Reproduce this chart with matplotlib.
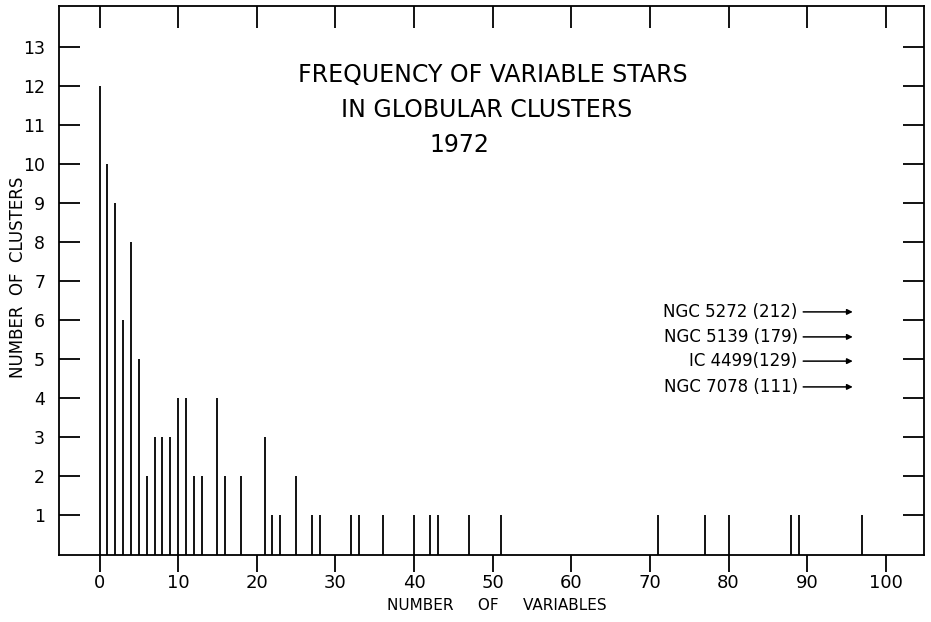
import matplotlib
matplotlib.use("Agg")
import matplotlib.pyplot as plt

plt.rcParams['font.family'] = ['DejaVu Sans']

# Data: number of variables per cluster -> number of clusters
num_variables = [0, 1, 2, 3, 4, 5, 6, 7, 8, 9, 10, 11, 12, 13, 15, 16, 18,
                 21, 22, 23, 25, 27, 28, 32, 33, 36, 40, 42, 43, 47, 51,
                 71, 77, 80, 88, 89, 97]
num_clusters = [12, 10, 9, 6, 8, 5, 2, 3, 3, 3, 4, 4, 2, 2, 4, 2, 2,
                3, 1, 1, 2, 1, 1, 1, 1, 1, 1, 1, 1, 1, 1,
                1, 1, 1, 1, 1, 1]

off_scale_labels = ["NGC 5272 (212)", "NGC 5139 (179)", "IC 4499(129)", "NGC 7078 (111)"]

x_ticks = list(range(0, 101, 10))
y_ticks = list(range(1, 14))

title_lines = ["FREQUENCY OF VARIABLE STARS", "IN GLOBULAR CLUSTERS", "1972"]

fig = plt.figure(figsize=(9.31, 6.22), dpi=100)
ax = fig.add_axes([0.0634, 0.1085, 0.9294, 0.8825])

ax.vlines(num_variables, 0, num_clusters, color='black', linewidth=1.3)

ax.set_xlim(-5.15, 104.9)
ax.set_ylim(0, 14.05)

ax.set_xticks(x_ticks)
ax.set_yticks(y_ticks)
ax.tick_params(axis='x', which='both', direction='out', length=12, width=1.3,
               top=False, labelsize=13, pad=2, colors='black')
ax.tick_params(axis='y', which='both', direction='in', length=15, width=1.3,
               right=True, labelsize=12.5, pad=10)
# Top ticks pointing inward
secx = ax.secondary_xaxis('top')
secx.set_xticks(x_ticks)
secx.tick_params(direction='in', length=16, width=1.3, labeltop=False)
secx.set_xticklabels([])
secx.spines['top'].set_visible(False)

for s in ax.spines.values():
    s.set_linewidth(1.3)

ax.set_xlabel("NUMBER     OF     VARIABLES", fontsize=11)
ax.xaxis.set_label_coords(0.506, -0.079)
ax.set_ylabel("NUMBER  OF  CLUSTERS", fontsize=12, va='center')
ax.yaxis.set_label_coords(-0.047, 0.505)

title_x = [493 / 931, 487 / 931, 459 / 931]
title_y = [1 - 75 / 622, 1 - 110 / 622, 1 - 145 / 622]
for t, tx, ty in zip(title_lines, title_x, title_y):
    fig.text(tx, ty, t, ha='center', va='center', fontsize=17)

ys = [6.21, 5.57, 4.95, 4.29]
for label, y in zip(off_scale_labels, ys):
    ax.text(88.8, y, label, ha='right', va='center', fontsize=12)
    ax.annotate("", xy=(95.8, y), xytext=(89.5, y),
                arrowprops=dict(arrowstyle='-|>', color='black', lw=1.1,
                                mutation_scale=8, shrinkA=0, shrinkB=0))

fig.savefig("out.png", dpi=100)
